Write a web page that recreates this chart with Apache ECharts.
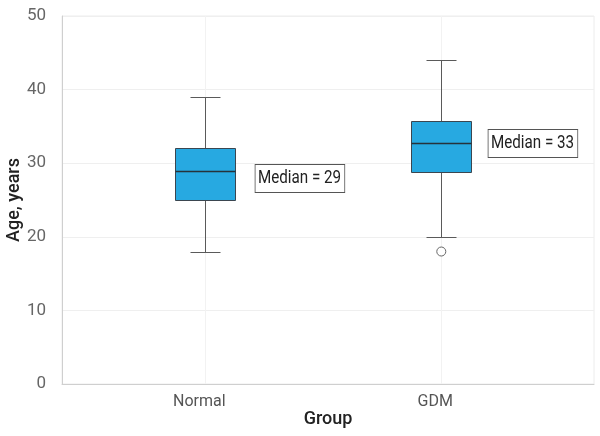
<!DOCTYPE html>
<html>
<head>
<meta charset="utf-8">
<script src="https://cdn.jsdelivr.net/npm/echarts@6/dist/echarts.min.js"></script>
<style>
html,body{margin:0;padding:0;background:#fff;}
#chart{width:600px;height:436px;}
</style>
</head>
<body>
<div id="chart"></div>
<script>
// ---- data ----
const categories = ['Normal', 'GDM'];
// [min, Q1, median, Q3, max]
const normalBox = [18, 25, 29, 32, 39];
const gdmBox = [20, 28.8, 32.8, 35.8, 44];
const outliers = [[1, 18]];
const medianLabels = ['Median = 29', 'Median = 33'];
const yTicks = [0, 10, 20, 30, 40, 50];

const FONT = 'Roboto, "Liberation Sans", sans-serif';
const boxData = [normalBox, gdmBox].map((b, i) => [i].concat(b));

const chart = echarts.init(document.getElementById('chart'), null, {renderer: 'canvas'});

function px(v) { return Math.round(v) + 0.5; }

const option = {
  animation: false,
  backgroundColor: '#fff',
  grid: {left: 62, right: 6, top: 16, bottom: 52, show: true, borderColor: '#ececec', borderWidth: 1,
    containLabel: false, outerBoundsMode: 'none'},
  xAxis: {
    type: 'value', min: -0.607, max: 1.647,
    name: 'Group', nameLocation: 'middle', nameGap: 26, nameMoveOverlap: false,
    nameTextStyle: {fontFamily: FONT, fontSize: 18, color: '#222', fontWeight: 500},
    axisLine: {show: true, onZero: false, lineStyle: {color: '#cfcfcf', width: 1}},
    axisTick: {show: false, customValues: [0, 1]},
    axisLabel: {
      customValues: [0, 1], margin: 10, fontFamily: FONT, fontSize: 16, color: '#555',
      padding: [0, 12, 0, 0],
      formatter: v => categories[Math.round(v)]
    },
    splitLine: {show: true, lineStyle: {color: '#f2f2f2', width: 1}}
  },
  yAxis: {
    type: 'value', min: 0, max: 50, interval: 10,
    name: 'Age, years', nameLocation: 'middle', nameGap: 39, nameRotate: 90, nameMoveOverlap: false,
    nameTextStyle: {fontFamily: FONT, fontSize: 18, color: '#222', fontWeight: 500},
    axisLine: {show: true, onZero: false, lineStyle: {color: '#cfcfcf', width: 1}},
    axisTick: {show: false},
    axisLabel: {margin: 16, fontFamily: FONT, fontSize: 17, color: '#666',
      formatter: v => yTicks.indexOf(v) >= 0 ? String(v) : ''},
    splitLine: {show: true, lineStyle: {color: '#efefef', width: 1}}
  },
  series: [
    {
      type: 'custom',
      data: boxData,
      encode: {x: 0, y: [1, 2, 3, 4, 5]},
      renderItem: function (params, api) {
        const x = api.value(0);
        const pMin = api.coord([x, api.value(1)]);
        const pQ1 = api.coord([x, api.value(2)]);
        const pMed = api.coord([x, api.value(3)]);
        const pQ3 = api.coord([x, api.value(4)]);
        const pMax = api.coord([x, api.value(5)]);
        const cx = px(pMin[0]);
        const bh = 30, ch = 15;
        const whisker = {stroke: '#5a5a5a', lineWidth: 1};
        return {
          type: 'group',
          children: [
            {type: 'line', shape: {x1: cx, y1: px(pMax[1]), x2: cx, y2: px(pQ3[1])}, style: whisker},
            {type: 'line', shape: {x1: cx, y1: px(pQ1[1]), x2: cx, y2: px(pMin[1])}, style: whisker},
            {type: 'line', shape: {x1: cx - ch, y1: px(pMax[1]), x2: cx + ch, y2: px(pMax[1])}, style: whisker},
            {type: 'line', shape: {x1: cx - ch, y1: px(pMin[1]), x2: cx + ch, y2: px(pMin[1])}, style: whisker},
            {type: 'rect', shape: {x: cx - bh, y: px(pQ3[1]), width: 2 * bh, height: Math.round(pQ1[1]) - Math.round(pQ3[1])},
              style: {fill: '#27a9e1', stroke: '#3b4650', lineWidth: 1}},
            {type: 'line', shape: {x1: cx - bh, y1: px(pMed[1]), x2: cx + bh, y2: px(pMed[1])},
              style: {stroke: '#26323a', lineWidth: 1.5}}
          ]
        };
      },
      z: 3
    },
    {
      type: 'scatter',
      data: outliers,
      symbol: 'circle', symbolSize: 9,
      itemStyle: {color: '#fff', borderColor: '#666', borderWidth: 1, opacity: 1},
      z: 4
    },
    {
      type: 'custom',
      data: boxData,
      encode: {x: 0, y: 3},
      renderItem: function (params, api) {
        const i = params.dataIndex;
        const p = api.coord([api.value(0), api.value(3)]);
        const dx = [50, 47][i];
        const dy = [7, 0][i];
        return {
          type: 'text',
          x: Math.round(p[0] + dx) + 0.5,
          y: Math.round(p[1] + dy) + 0.5,
          scaleX: 0.8,
          style: {
            text: medianLabels[i],
            fill: '#222', fontFamily: FONT, fontSize: 19,
            textAlign: 'left', textVerticalAlign: 'middle',
            backgroundColor: '#fff', borderColor: '#555', borderWidth: 1,
            padding: [4, 4, 4, 3]
          }
        };
      },
      z: 5
    }
  ]
};
chart.setOption(option);
</script>
</body>
</html>
